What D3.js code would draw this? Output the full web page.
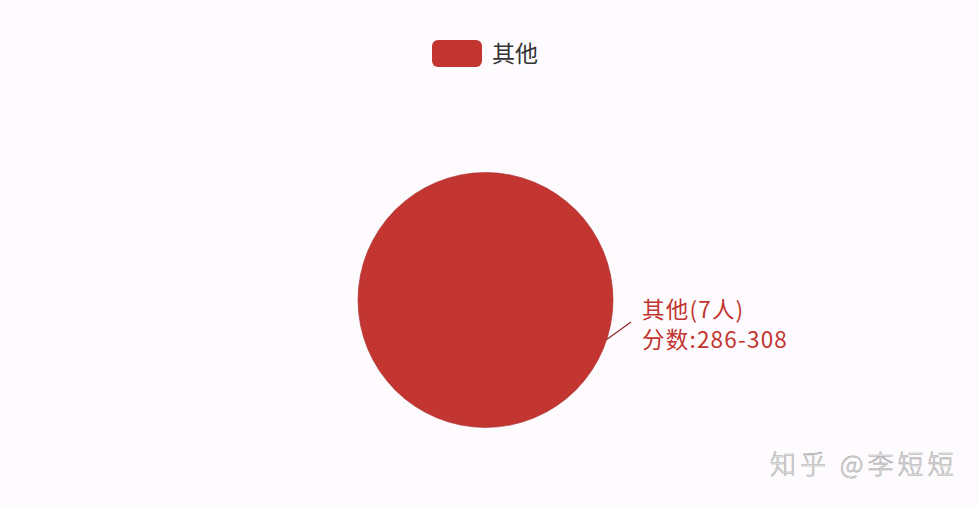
<!DOCTYPE html>
<html><head><meta charset="utf-8">
<script src="https://cdn.jsdelivr.net/npm/d3@7"></script>
<style>html,body{margin:0;padding:0;background:#fdfbfd;}svg{display:block;}</style>
</head><body>
<svg id="c" width="978" height="506"></svg>
<script>
const categories = ["其他"];
const counts = [7];
const scoreRanges = ["286-308"];
const colors = ["#c23531"];

const W = 978, H = 506;
const svg = d3.select("#c");
svg.append("rect").attr("width", W).attr("height", H).attr("fill", "#fdfbfd");
const font = "'Noto Sans CJK SC','Noto Sans',sans-serif";

const data = categories.map((c, i) => ({name: c, value: counts[i], range: scoreRanges[i], color: colors[i]}));
const cx = 485.5, cy = 300, R = 127.5;
const pie = d3.pie().value(d => d.value).sort(null);
const arc = d3.arc().innerRadius(0).outerRadius(R);
const g = svg.append("g").attr("transform", `translate(${cx},${cy})`);
const arcs = pie(data);
g.selectAll("path").data(arcs).join("path")
  .attr("d", arc).attr("fill", d => d.data.color)
  .attr("stroke", "#a82a26").attr("stroke-width", 0.6);

// label line
const labelAngle = 108 * Math.PI / 180; // from top, clockwise
const p1 = d3.pointRadial(labelAngle, R);
const p2 = d3.pointRadial(labelAngle - 0.164, R + 19.7);
g.selectAll("line.lbl").data(arcs).join("line").attr("class", "lbl")
  .attr("x1", p1[0]).attr("y1", p1[1]).attr("x2", p2[0]).attr("y2", p2[1])
  .attr("stroke", "#8e2320").attr("stroke-width", 1.2);
const tx = p2[0] + 11;
const lblStyle = sel => sel.attr("font-family", font).attr("font-size", 22.5)
  .attr("letter-spacing", 1.2).attr("fill", d => d.data.color).attr("x", tx);
g.selectAll("text.l1").data(arcs).join("text").attr("class", "l1")
  .call(lblStyle).attr("y", p2[1] - 4)
  .text(d => `${d.data.name}(${d.data.value}人)`);
g.selectAll("text.l2").data(arcs).join("text").attr("class", "l2")
  .call(lblStyle).attr("y", p2[1] + 26)
  .text(d => `分数:${d.data.range}`);

// legend
const lg = svg.append("g").attr("transform", "translate(432,40)");
lg.selectAll("rect").data(data).join("rect")
  .attr("width", 50).attr("height", 27).attr("rx", 6).attr("fill", d => d.color);
lg.selectAll("text").data(data).join("text")
  .attr("x", 60).attr("y", 22).attr("font-family", font).attr("font-size", 23)
  .attr("fill", "#333").text(d => d.name);

// watermark
svg.append("text").attr("x", 770).attr("y", 474).attr("font-family", font)
  .attr("font-size", 26).attr("letter-spacing", 4).attr("font-weight", 300)
  .attr("fill", "#eeeeee").attr("stroke", "#aaaaaa").attr("stroke-width", 0.6)
  .text("知乎 @李短短");
</script>
</body></html>
